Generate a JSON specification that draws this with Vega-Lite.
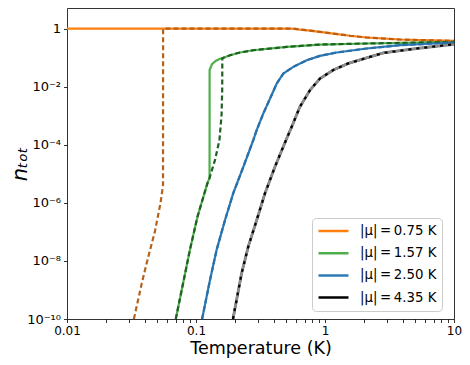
{
  "$schema": "https://vega.github.io/schema/vega-lite/v6.json",
  "width": 387,
  "height": 311,
  "autosize": {"type": "none"},
  "padding": {"left": 67, "top": 8, "right": 16, "bottom": 46},
  "background": "white",
  "config": {
    "view": {"stroke": "#333333", "strokeWidth": 1},
    "font": "DejaVu Sans",
    "axis": {"domain": false, "grid": false, "tickColor": "#000000", "tickWidth": 0.8, "labelColor": "#000000", "titleColor": "#000000", "labelFont": "DejaVu Sans", "titleFont": "DejaVu Sans", "labelFontSize": 12, "titleFontWeight": "normal"}
  },
  "datasets": {
    "solid": [
      {"s": "|μ| = 0.75 K", "i": 0, "T": 0.01, "n": 1},
      {"s": "|μ| = 0.75 K", "i": 1, "T": 0.448, "n": 1},
      {"s": "|μ| = 0.75 K", "i": 2, "T": 0.536, "n": 0.998},
      {"s": "|μ| = 0.75 K", "i": 3, "T": 0.589, "n": 0.975},
      {"s": "|μ| = 0.75 K", "i": 4, "T": 0.64, "n": 0.925},
      {"s": "|μ| = 0.75 K", "i": 5, "T": 0.766, "n": 0.853},
      {"s": "|μ| = 0.75 K", "i": 6, "T": 1.159, "n": 0.673},
      {"s": "|μ| = 0.75 K", "i": 7, "T": 1.563, "n": 0.566},
      {"s": "|μ| = 0.75 K", "i": 8, "T": 2.104, "n": 0.491},
      {"s": "|μ| = 0.75 K", "i": 9, "T": 3.811, "n": 0.419},
      {"s": "|μ| = 0.75 K", "i": 10, "T": 10, "n": 0.375},

      {"s": "|μ| = 1.57 K", "i": 0, "T": 0.0697, "n": 1e-10},
      {"s": "|μ| = 1.57 K", "i": 1, "T": 0.0796, "n": 1.78e-9},
      {"s": "|μ| = 1.57 K", "i": 2, "T": 0.0897, "n": 2.4e-8},
      {"s": "|μ| = 1.57 K", "i": 3, "T": 0.1028, "n": 3.39e-7},
      {"s": "|μ| = 1.57 K", "i": 4, "T": 0.1225, "n": 4.68e-6},
      {"s": "|μ| = 1.57 K", "i": 5, "T": 0.1274, "n": 7.24e-6},
      {"s": "|μ| = 1.57 K", "i": 6, "T": 0.1275, "n": 0.0372},
      {"s": "|μ| = 1.57 K", "i": 7, "T": 0.133, "n": 0.0593},
      {"s": "|μ| = 1.57 K", "i": 8, "T": 0.1429, "n": 0.0782},
      {"s": "|μ| = 1.57 K", "i": 9, "T": 0.1535, "n": 0.0916},
      {"s": "|μ| = 1.57 K", "i": 10, "T": 0.1592, "n": 0.0953},
      {"s": "|μ| = 1.57 K", "i": 11, "T": 0.1837, "n": 0.1208},
      {"s": "|μ| = 1.57 K", "i": 12, "T": 0.2193, "n": 0.1496},
      {"s": "|μ| = 1.57 K", "i": 13, "T": 0.278, "n": 0.1795},
      {"s": "|μ| = 1.57 K", "i": 14, "T": 0.5047, "n": 0.2333},
      {"s": "|μ| = 1.57 K", "i": 15, "T": 0.914, "n": 0.2818},
      {"s": "|μ| = 1.57 K", "i": 16, "T": 2.104, "n": 0.3055},
      {"s": "|μ| = 1.57 K", "i": 17, "T": 10, "n": 0.3467},

      {"s": "|μ| = 2.50 K", "i": 0, "T": 0.1115, "n": 1e-10},
      {"s": "|μ| = 2.50 K", "i": 1, "T": 0.1285, "n": 2.24e-9},
      {"s": "|μ| = 2.50 K", "i": 2, "T": 0.1445, "n": 2.4e-8},
      {"s": "|μ| = 2.50 K", "i": 3, "T": 0.1679, "n": 2.57e-7},
      {"s": "|μ| = 2.50 K", "i": 4, "T": 0.1945, "n": 2.14e-6},
      {"s": "|μ| = 2.50 K", "i": 5, "T": 0.2328, "n": 1.74e-5},
      {"s": "|μ| = 2.50 K", "i": 6, "T": 0.278, "n": 1.45e-4},
      {"s": "|μ| = 2.50 K", "i": 7, "T": 0.2958, "n": 3.24e-4},
      {"s": "|μ| = 2.50 K", "i": 8, "T": 0.3327, "n": 1.2e-3},
      {"s": "|μ| = 2.50 K", "i": 9, "T": 0.375, "n": 3.89e-3},
      {"s": "|μ| = 2.50 K", "i": 10, "T": 0.4227, "n": 0.0129},
      {"s": "|μ| = 2.50 K", "i": 11, "T": 0.4753, "n": 0.0282},
      {"s": "|μ| = 2.50 K", "i": 12, "T": 0.5675, "n": 0.0479},
      {"s": "|μ| = 2.50 K", "i": 13, "T": 0.7211, "n": 0.0813},
      {"s": "|μ| = 2.50 K", "i": 14, "T": 0.914, "n": 0.1148},
      {"s": "|μ| = 2.50 K", "i": 15, "T": 1.233, "n": 0.1496},
      {"s": "|μ| = 2.50 K", "i": 16, "T": 2.104, "n": 0.2056},
      {"s": "|μ| = 2.50 K", "i": 17, "T": 3.811, "n": 0.2667},
      {"s": "|μ| = 2.50 K", "i": 18, "T": 10, "n": 0.3304},

      {"s": "|μ| = 4.35 K", "i": 0, "T": 0.1935, "n": 1e-10},
      {"s": "|μ| = 4.35 K", "i": 1, "T": 0.2259, "n": 3.8e-9},
      {"s": "|μ| = 4.35 K", "i": 2, "T": 0.2541, "n": 3.09e-8},
      {"s": "|μ| = 4.35 K", "i": 3, "T": 0.2958, "n": 2.57e-7},
      {"s": "|μ| = 4.35 K", "i": 4, "T": 0.3428, "n": 2.14e-6},
      {"s": "|μ| = 4.35 K", "i": 5, "T": 0.4093, "n": 1.74e-5},
      {"s": "|μ| = 4.35 K", "i": 6, "T": 0.4989, "n": 1.45e-4},
      {"s": "|μ| = 4.35 K", "i": 7, "T": 0.5521, "n": 4.17e-4},
      {"s": "|μ| = 4.35 K", "i": 8, "T": 0.6397, "n": 2.04e-3},
      {"s": "|μ| = 4.35 K", "i": 9, "T": 0.7656, "n": 7.59e-3},
      {"s": "|μ| = 4.35 K", "i": 10, "T": 0.914, "n": 0.0191},
      {"s": "|μ| = 4.35 K", "i": 11, "T": 1.159, "n": 0.0372},
      {"s": "|μ| = 4.35 K", "i": 12, "T": 1.517, "n": 0.0631},
      {"s": "|μ| = 4.35 K", "i": 13, "T": 2.831, "n": 0.1452},
      {"s": "|μ| = 4.35 K", "i": 14, "T": 5.14, "n": 0.2056},
      {"s": "|μ| = 4.35 K", "i": 15, "T": 10, "n": 0.2884}
    ],
    "dashed": [
      {"s": "|μ| = 0.75 K", "i": 0, "T": 0.033, "n": 1e-10},
      {"s": "|μ| = 0.75 K", "i": 1, "T": 0.0379, "n": 1.62e-9},
      {"s": "|μ| = 0.75 K", "i": 2, "T": 0.0417, "n": 9.3e-9},
      {"s": "|μ| = 0.75 K", "i": 3, "T": 0.0481, "n": 1.07e-7},
      {"s": "|μ| = 0.75 K", "i": 4, "T": 0.0531, "n": 1e-6},
      {"s": "|μ| = 0.75 K", "i": 5, "T": 0.0555, "n": 4e-6},
      {"s": "|μ| = 0.75 K", "i": 6, "T": 0.0556, "n": 1},
      {"s": "|μ| = 0.75 K", "i": 7, "T": 0.448, "n": 1},
      {"s": "|μ| = 0.75 K", "i": 8, "T": 0.536, "n": 0.998},
      {"s": "|μ| = 0.75 K", "i": 9, "T": 0.589, "n": 0.975},
      {"s": "|μ| = 0.75 K", "i": 10, "T": 0.64, "n": 0.925},
      {"s": "|μ| = 0.75 K", "i": 11, "T": 0.766, "n": 0.853},
      {"s": "|μ| = 0.75 K", "i": 12, "T": 1.159, "n": 0.673},
      {"s": "|μ| = 0.75 K", "i": 13, "T": 1.563, "n": 0.566},
      {"s": "|μ| = 0.75 K", "i": 14, "T": 2.104, "n": 0.491},
      {"s": "|μ| = 0.75 K", "i": 15, "T": 3.811, "n": 0.419},
      {"s": "|μ| = 0.75 K", "i": 16, "T": 10, "n": 0.375},

      {"s": "|μ| = 1.57 K", "i": 0, "T": 0.0697, "n": 1e-10},
      {"s": "|μ| = 1.57 K", "i": 1, "T": 0.0796, "n": 1.78e-9},
      {"s": "|μ| = 1.57 K", "i": 2, "T": 0.0897, "n": 2.4e-8},
      {"s": "|μ| = 1.57 K", "i": 3, "T": 0.1028, "n": 3.39e-7},
      {"s": "|μ| = 1.57 K", "i": 4, "T": 0.1225, "n": 4.68e-6},
      {"s": "|μ| = 1.57 K", "i": 5, "T": 0.1274, "n": 7.24e-6},
      {"s": "|μ| = 1.57 K", "i": 6, "T": 0.1403, "n": 2.95e-5},
      {"s": "|μ| = 1.57 K", "i": 7, "T": 0.152, "n": 1.45e-4},
      {"s": "|μ| = 1.57 K", "i": 8, "T": 0.1578, "n": 1.05e-3},
      {"s": "|μ| = 1.57 K", "i": 9, "T": 0.1596, "n": 7.6e-3},
      {"s": "|μ| = 1.57 K", "i": 10, "T": 0.16, "n": 0.0953},
      {"s": "|μ| = 1.57 K", "i": 11, "T": 0.1837, "n": 0.1208},
      {"s": "|μ| = 1.57 K", "i": 12, "T": 0.2193, "n": 0.1496},
      {"s": "|μ| = 1.57 K", "i": 13, "T": 0.278, "n": 0.1795},
      {"s": "|μ| = 1.57 K", "i": 14, "T": 0.5047, "n": 0.2333},
      {"s": "|μ| = 1.57 K", "i": 15, "T": 0.914, "n": 0.2818},
      {"s": "|μ| = 1.57 K", "i": 16, "T": 2.104, "n": 0.3055},
      {"s": "|μ| = 1.57 K", "i": 17, "T": 10, "n": 0.3467},

      {"s": "|μ| = 2.50 K", "i": 0, "T": 0.1115, "n": 1e-10},
      {"s": "|μ| = 2.50 K", "i": 1, "T": 0.1285, "n": 2.24e-9},
      {"s": "|μ| = 2.50 K", "i": 2, "T": 0.1445, "n": 2.4e-8},
      {"s": "|μ| = 2.50 K", "i": 3, "T": 0.1679, "n": 2.57e-7},
      {"s": "|μ| = 2.50 K", "i": 4, "T": 0.1945, "n": 2.14e-6},
      {"s": "|μ| = 2.50 K", "i": 5, "T": 0.2328, "n": 1.74e-5},
      {"s": "|μ| = 2.50 K", "i": 6, "T": 0.278, "n": 1.45e-4},
      {"s": "|μ| = 2.50 K", "i": 7, "T": 0.2958, "n": 3.24e-4},
      {"s": "|μ| = 2.50 K", "i": 8, "T": 0.3327, "n": 1.2e-3},
      {"s": "|μ| = 2.50 K", "i": 9, "T": 0.375, "n": 3.89e-3},
      {"s": "|μ| = 2.50 K", "i": 10, "T": 0.4227, "n": 0.0129},
      {"s": "|μ| = 2.50 K", "i": 11, "T": 0.4753, "n": 0.0282},
      {"s": "|μ| = 2.50 K", "i": 12, "T": 0.5675, "n": 0.0479},
      {"s": "|μ| = 2.50 K", "i": 13, "T": 0.7211, "n": 0.0813},
      {"s": "|μ| = 2.50 K", "i": 14, "T": 0.914, "n": 0.1148},
      {"s": "|μ| = 2.50 K", "i": 15, "T": 1.233, "n": 0.1496},
      {"s": "|μ| = 2.50 K", "i": 16, "T": 2.104, "n": 0.2056},
      {"s": "|μ| = 2.50 K", "i": 17, "T": 3.811, "n": 0.2667},
      {"s": "|μ| = 2.50 K", "i": 18, "T": 10, "n": 0.3304},

      {"s": "|μ| = 4.35 K", "i": 0, "T": 0.1935, "n": 1e-10},
      {"s": "|μ| = 4.35 K", "i": 1, "T": 0.2259, "n": 3.8e-9},
      {"s": "|μ| = 4.35 K", "i": 2, "T": 0.2541, "n": 3.09e-8},
      {"s": "|μ| = 4.35 K", "i": 3, "T": 0.2958, "n": 2.57e-7},
      {"s": "|μ| = 4.35 K", "i": 4, "T": 0.3428, "n": 2.14e-6},
      {"s": "|μ| = 4.35 K", "i": 5, "T": 0.4093, "n": 1.74e-5},
      {"s": "|μ| = 4.35 K", "i": 6, "T": 0.4989, "n": 1.45e-4},
      {"s": "|μ| = 4.35 K", "i": 7, "T": 0.5521, "n": 4.17e-4},
      {"s": "|μ| = 4.35 K", "i": 8, "T": 0.6397, "n": 2.04e-3},
      {"s": "|μ| = 4.35 K", "i": 9, "T": 0.7656, "n": 7.59e-3},
      {"s": "|μ| = 4.35 K", "i": 10, "T": 0.914, "n": 0.0191},
      {"s": "|μ| = 4.35 K", "i": 11, "T": 1.159, "n": 0.0372},
      {"s": "|μ| = 4.35 K", "i": 12, "T": 1.517, "n": 0.0631},
      {"s": "|μ| = 4.35 K", "i": 13, "T": 2.831, "n": 0.1452},
      {"s": "|μ| = 4.35 K", "i": 14, "T": 5.14, "n": 0.2056},
      {"s": "|μ| = 4.35 K", "i": 15, "T": 10, "n": 0.2884}
    ]
  },
  "encoding": {
    "x": {
      "field": "T", "type": "quantitative",
      "scale": {"type": "log", "domain": [0.01, 10], "nice": false},
      "axis": {
        "title": "Temperature (K)", "titleFontSize": 17.5, "titlePadding": 3,
        "values": [0.01,0.02,0.03,0.04,0.05,0.06,0.07,0.08,0.09,0.1,0.2,0.3,0.4,0.5,0.6,0.7,0.8,0.9,1,2,3,4,5,6,7,8,9,10],
        "labelExpr": "datum.value == 0.01 ? '0.01' : datum.value == 0.1 ? '0.1' : datum.value == 1 ? '1' : datum.value == 10 ? '10' : ''",
        "tickSize": 3.5, "labelPadding": 3, "labelFlush": false, "labelOverlap": false,
        "encode": {"ticks": {"update": {"y2": {"signal": "indexof([0.01, 0.1, 1, 10], datum.value) >= 0 ? 3.5 : 2"}}}}
      }
    },
    "y": {
      "field": "n", "type": "quantitative",
      "scale": {"type": "log", "domain": [1e-10, 5.1], "nice": false},
      "axis": {
        "title": "nₜₒₜ", "titleFontSize": 21, "titleFontStyle": "italic", "titlePadding": -4,
        "values": [1e-10, 1e-8, 1e-6, 1e-4, 1e-2, 1],
        "labelExpr": "round(log(datum.value)/LN10) == 0 ? '1' : round(log(datum.value)/LN10) == -2 ? '10⁻²' : round(log(datum.value)/LN10) == -4 ? '10⁻⁴' : round(log(datum.value)/LN10) == -6 ? '10⁻⁶' : round(log(datum.value)/LN10) == -8 ? '10⁻⁸' : '10⁻¹⁰'",
        "tickSize": 3.5, "labelPadding": 3, "labelFontSize": 13, "labelFlush": false, "labelOverlap": false
      }
    }
  },
  "layer": [
    {
      "data": {"name": "solid"},
      "mark": {"type": "line", "strokeWidth": 2.2, "clip": true},
      "encoding": {
        "order": {"field": "i", "type": "quantitative"},
        "color": {
          "field": "s", "type": "nominal",
          "scale": {"domain": ["|μ| = 0.75 K", "|μ| = 1.57 K", "|μ| = 2.50 K", "|μ| = 4.35 K"], "range": ["#ff7f0e", "#4daf4a", "#2c7bb6", "#000000"]},
          "legend": {
            "title": null, "orient": "none", "legendX": 245, "legendY": 210,
            "symbolType": "stroke", "symbolSize": 900, "symbolStrokeWidth": 2.5,
            "clipHeight": 16,
            "labelExpr": "replace(datum.label, ' = ', '\u2009=\u2009')",
            "labelFontSize": 13.3, "labelFont": "DejaVu Sans", "labelColor": "#000000", "labelOffset": 10,
            "rowPadding": 6.2, "padding": 5, "strokeColor": "#cccccc", "fillColor": "white", "cornerRadius": 4
          }
        }
      }
    },
    {
      "data": {"name": "solid"},
      "transform": [{"filter": "datum.s == '|μ| = 4.35 K'"}],
      "mark": {"type": "line", "strokeWidth": 2.8, "clip": true, "color": "#8c8c8c"},
      "encoding": {
        "order": {"field": "i", "type": "quantitative"}
      }
    },
    {
      "data": {"name": "dashed"},
      "mark": {"type": "line", "strokeWidth": 2.2, "clip": true},
      "encoding": {
        "order": {"field": "i", "type": "quantitative"},
        "color": {
          "field": "s", "type": "nominal",
          "scale": {"domain": ["|μ| = 0.75 K", "|μ| = 1.57 K", "|μ| = 2.50 K", "|μ| = 4.35 K"], "range": ["#b5611a", "#1f6024", "#2a6fa8", "#000000"]},
          "legend": null
        },
        "strokeDash": {
          "field": "s", "type": "nominal",
          "scale": {"domain": ["|μ| = 0.75 K", "|μ| = 1.57 K", "|μ| = 2.50 K", "|μ| = 4.35 K"], "range": [[5, 3], [5, 3], [5, 3], [3, 5]]},
          "legend": null
        }
      }
    }
  ],
  "resolve": {"scale": {"color": "independent", "strokeDash": "independent"}}
}
